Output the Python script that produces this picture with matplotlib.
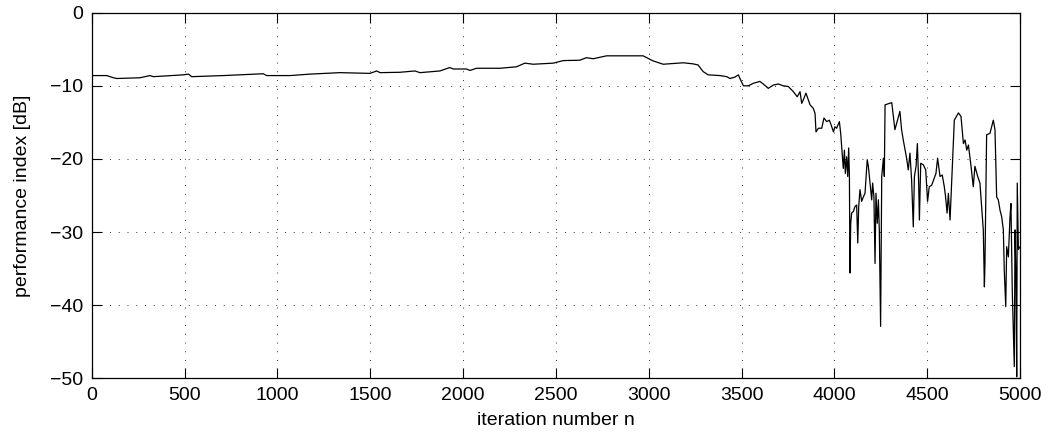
"""
Performance index vs. iteration number
"""

import matplotlib
matplotlib.use("Agg")
import matplotlib.pyplot as plt

plt.rcParams["font.family"] = ["Liberation Sans", "DejaVu Sans"]

# 読み取った値 (iteration, dB)
iteration = [
    0, 81, 117, 135, 260, 314, 332, 494, 521, 539, 709, 924, 942, 1068, 1176,
    1337, 1499, 1535, 1553, 1660, 1741, 1768, 1875, 1929, 1947, 2019, 2037,
    2073, 2199, 2288, 2333, 2378, 2486, 2540, 2629, 2665, 2701, 2773, 2881,
    2970, 3024, 3078, 3186, 3240, 3266, 3293, 3320, 3384, 3420, 3438, 3465,
    3483, 3495, 3510, 3537, 3564, 3599, 3617, 3644, 3671, 3698, 3725, 3752,
    3779, 3800, 3815, 3824, 3833, 3847, 3854, 3869, 3887, 3896, 3901, 3914,
    3932, 3944, 3959, 3973, 3986, 3995, 4003, 4012, 4027, 4034, 4041, 4048,
    4054, 4059, 4066, 4072, 4077, 4081, 4084, 4088, 4093, 4102, 4111, 4120,
    4126, 4131, 4138, 4147, 4156, 4165, 4177, 4183, 4192, 4201, 4206, 4213,
    4219, 4224, 4231, 4237, 4242, 4249, 4255, 4264, 4269, 4273, 4309, 4326,
    4353, 4362, 4371, 4389, 4398, 4407, 4416, 4425, 4431, 4440, 4447, 4454,
    4458, 4465, 4479, 4492, 4502, 4511, 4524, 4547, 4556, 4569, 4581, 4592,
    4599, 4607, 4614, 4623, 4632, 4646, 4668, 4682, 4695, 4704, 4713, 4722,
    4736, 4748, 4757, 4772, 4784, 4802, 4808, 4811, 4820, 4838, 4856, 4865,
    4874, 4883, 4892, 4901, 4910, 4915, 4923, 4928, 4937, 4946, 4951, 4958,
    4966, 4969, 4973, 4978, 4982, 4985, 4991, 5000,
]
perf_db = [
    -8.6, -8.6, -8.9, -9.0, -8.9, -8.6, -8.75, -8.5, -8.4, -8.75, -8.6, -8.35,
    -8.6, -8.6, -8.4, -8.2, -8.3, -7.97, -8.2, -8.15, -7.97, -8.2, -7.97,
    -7.5, -7.7, -7.7, -7.9, -7.6, -7.6, -7.4, -6.9, -7.05, -6.9, -6.55,
    -6.5, -6.15, -6.3, -5.9, -5.9, -5.9, -6.6, -7.05, -6.85, -7.0, -7.15,
    -8.05, -8.5, -8.6, -8.75, -9.0, -8.8, -8.5, -9.2, -10.0, -10.0, -9.65,
    -9.4, -9.75, -10.35, -9.9, -9.75, -10.0, -10.1, -10.8, -11.5, -10.8,
    -12.4, -11.9, -11.0, -11.5, -12.6, -13.1, -13.8, -16.3, -15.8, -15.8,
    -14.4, -14.9, -14.7, -15.6, -16.3, -15.6, -15.8, -14.9, -16.5, -19.0,
    -21.3, -18.8, -22.0, -19.7, -22.4, -18.5, -22.4, -35.6, -28.8, -27.4,
    -27.2, -26.5, -26.3, -31.5, -26.5, -24.2, -25.8, -25.2, -24.7, -20.1,
    -21.0, -23.3, -25.6, -23.3, -25.2, -34.3, -24.7, -28.8, -25.6, -29.7,
    -42.9, -22.4, -19.9, -22.4, -12.6, -12.3, -16.0, -13.5, -16.0, -17.4,
    -19.9, -21.5, -19.2, -22.9, -29.3, -22.4, -21.0, -17.9, -23.3, -28.35,
    -20.6, -20.8, -21.5, -25.8, -23.8, -23.6, -22.0, -19.9, -22.4, -22.2,
    -23.8, -25.2, -27.4, -24.7, -28.35, -22.9, -14.7, -13.7, -14.2, -17.9,
    -17.4, -18.8, -18.1, -21.0, -23.8, -21.0, -22.4, -23.3, -29.7, -37.5,
    -34.3, -16.7, -16.5, -14.7, -16.0, -25.2, -25.6, -27.0, -27.9, -29.7,
    -35.2, -40.2, -32.0, -33.4, -27.9, -26.1, -37.9, -45.7, -48.4, -29.7,
    -36.1, -49.8, -23.3, -32.4, -32.0,
]

x_ticks = [0, 500, 1000, 1500, 2000, 2500, 3000, 3500, 4000, 4500, 5000]
y_ticks = [0, -10, -20, -30, -40, -50]

fig = plt.figure(figsize=(10.49, 4.42), dpi=100)
ax = fig.add_axes([0.0874, 0.1441, 0.885, 0.8272])

ax.plot(iteration, perf_db, color="black", linewidth=0.9)

ax.set_xlim(0, 5000)
ax.set_ylim(-50, 0)
ax.set_xticks(x_ticks)
ax.set_yticks(y_ticks)

# MATLAB風の点線グリッドと内向き目盛り
ax.grid(True, color="#333333", linestyle=(0, (1, 8)), linewidth=0.7)
ax.tick_params(direction="in", length=7, width=0.8, top=True, right=True,
               labelsize=14, pad=6)
for spine in ax.spines.values():
    spine.set_linewidth(0.9)

ax.set_xlabel("iteration number n", fontsize=14, labelpad=6)
ax.set_ylabel("performance index [dB]", fontsize=14, labelpad=14)

plt.savefig("out.png", dpi=100)
plt.close(fig)
